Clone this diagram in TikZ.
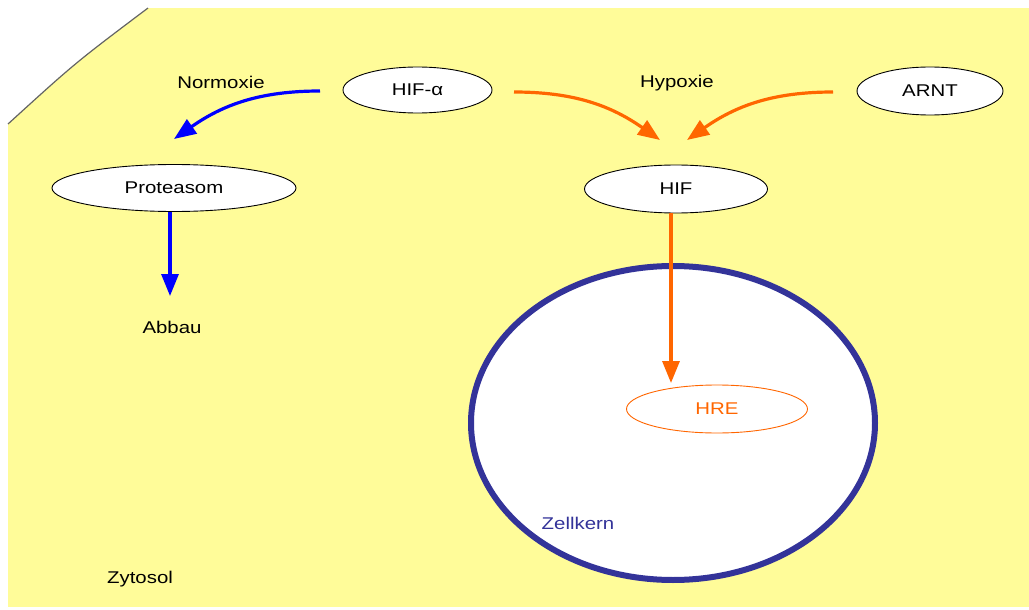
\documentclass[tikz,border=0pt]{standalone}
\usepackage{fontspec}
\setmainfont{Liberation Sans}
\usepackage{graphicx}
\usetikzlibrary{arrows.meta}
\definecolor{cyto}{RGB}{255,252,153}
\definecolor{nucblue}{RGB}{51,51,153}
\definecolor{hifor}{RGB}{255,102,0}
\definecolor{membr}{RGB}{100,100,100}
\newcommand{\tx}[1]{\scalebox{1.2}[1]{#1}}
\tikzset{
  prot/.style={draw=black, line width=0.9pt, fill=white, ellipse, inner sep=0pt},
  lbl/.style={font=\fontsize{17}{20}\selectfont, inner sep=0pt},
  bluearr/.style={draw=blue, line width=3.2pt, -{Triangle[length=22pt,width=17pt]}},
  orarr/.style={draw=hifor, line width=3.2pt, -{Triangle[length=22pt,width=17pt]}},
}
\usetikzlibrary{shapes.geometric}
\begin{document}
\begin{tikzpicture}[x=1pt,y=-1pt]
\useasboundingbox (0,0) rectangle (1029,610);
% cytosol
\fill[cyto] (8,8) rectangle (1029,607);
\fill[white] (8,124) .. controls (75,63) .. (148,8) -- (8,8) -- cycle;
\draw[membr, line width=1.2pt] (8,124) .. controls (75,63) .. (148,8);
% nucleus
\draw[nucblue, fill=white, line width=6pt] (673,423) ellipse [x radius=202, y radius=157];
% nodes
\node[prot, minimum width=149pt, minimum height=46pt, lbl] (hifa) at (417.5,90) {\tx{HIF-α}};
\node[prot, minimum width=146pt, minimum height=48pt, lbl] (arnt) at (930,91) {\tx{ARNT}};
\node[prot, minimum width=244pt, minimum height=47pt, lbl] (prot) at (174,188) {\tx{Proteasom}};
\node[prot, minimum width=183pt, minimum height=48pt, lbl] (hif) at (676,189) {\tx{HIF}};
\node[draw=hifor, line width=0.9pt, ellipse, inner sep=0pt, minimum width=181pt, minimum height=48pt, lbl, text=hifor] (hre) at (717,409) {\tx{HRE}};
% labels
\node[lbl] (normoxie) at (221,82) {\tx{Normoxie}};
\node[lbl] (hypoxie) at (677,83) {\tx{Hypoxie}};
\node[lbl] (abbau) at (172,327) {\tx{Abbau}};
\node[lbl, text=nucblue] (zellkern) at (578,523) {\tx{Zellkern}};
\node[lbl] (zytosol) at (140,579) {\tx{Zytosol}};
% arrow end coordinates
\coordinate (nA) at (320,91);
\coordinate (nB) at (174,139);
\coordinate (hA) at (514,92);
\coordinate (hB) at (660,140);
\coordinate (aA) at (833,92);
\coordinate (aB) at (687,140);
\coordinate (abB) at (170,296);
\coordinate (hrB) at (671,383);
% arrows
\draw[bluearr] (nA) to[out=180,in=35] (nB);
\draw[bluearr] (prot.south -| abB) -- (abB);
\draw[orarr] (hA) to[out=0,in=145] (hB);
\draw[orarr] (aA) to[out=180,in=35] (aB);
\draw[orarr] (hif.south -| hrB) -- (hrB);
\end{tikzpicture}
\end{document}
